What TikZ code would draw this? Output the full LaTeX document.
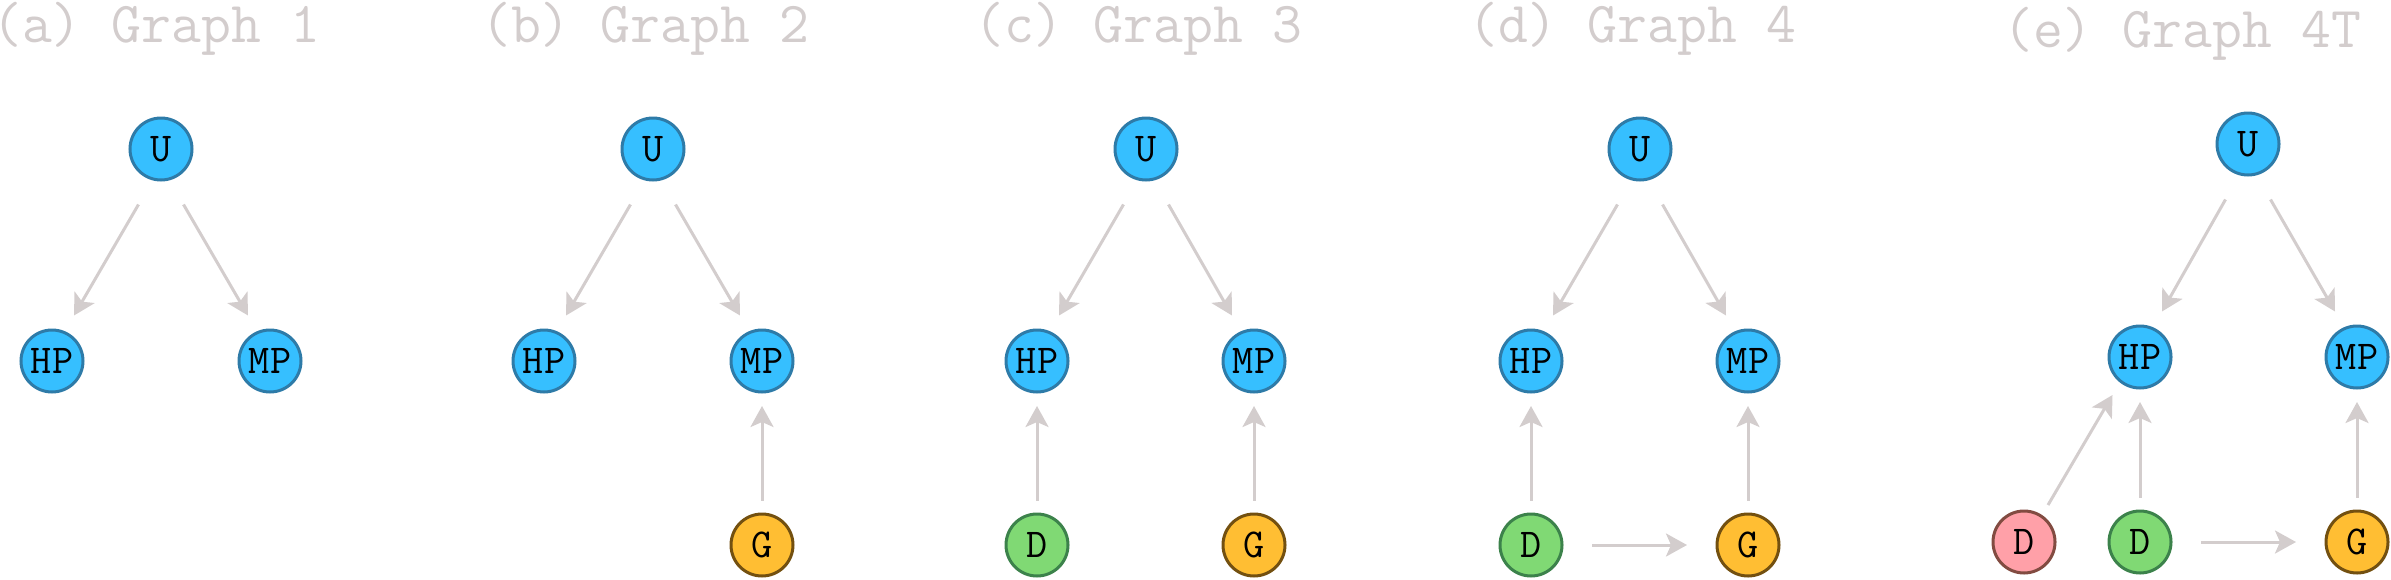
\documentclass[tikz,border=0pt]{standalone}
\usepackage{fontspec}
\usetikzlibrary{arrows.meta}
\definecolor{titlegray}{RGB}{211,205,205}
\definecolor{arrgray}{RGB}{211,205,205}
\definecolor{bluefill}{RGB}{54,191,255}
\definecolor{blueline}{RGB}{46,123,168}
\definecolor{greenfill}{RGB}{128,217,116}
\definecolor{greenline}{RGB}{60,130,75}
\definecolor{goldfill}{RGB}{255,190,51}
\definecolor{goldline}{RGB}{115,80,16}
\definecolor{pinkfill}{RGB}{255,160,168}
\definecolor{pinkline}{RGB}{130,75,65}
\tikzset{
  vnode/.style={circle, minimum size=62pt, inner sep=0pt, line width=3pt,
    font=\ttfamily\fontsize{41}{41}\selectfont, text=black},
  bluenode/.style={vnode, fill=bluefill, draw=blueline},
  greennode/.style={vnode, fill=greenfill, draw=greenline},
  goldnode/.style={vnode, fill=goldfill, draw=goldline},
  pinknode/.style={vnode, fill=pinkfill, draw=pinkline},
  ptitle/.style={anchor=base west, inner sep=0pt, text=titlegray,
    font=\ttfamily\fontsize{58}{58}\selectfont},
  arr/.style={draw=arrgray, line width=3pt,
    -{Stealth[length=21pt, width=23pt, inset=5pt]}},
  vert/.style={arr, shorten <=12pt, shorten >=12.5pt},
  horz/.style={arr, shorten <=28.5pt, shorten >=28.5pt}
}
% diagonal arrows from U to HP / MP (fixed 60 degree slope)
\newcommand{\uhp}[2]{\draw[arr] ([shift={(-22.5,55.5)}]#1.center) -- ([shift={(22,-45.5)}]#2.center);}
\newcommand{\ump}[2]{\draw[arr] ([shift={(22.5,55.5)}]#1.center) -- ([shift={(-22,-45.5)}]#2.center);}
\begin{document}
\begin{tikzpicture}[x=1pt, y=-1pt]
\useasboundingbox (0,0) rectangle (2391,579);
% titles
\node[ptitle] (ta) at (0,42) {\kern-8pt(a) Graph 1};
\node[ptitle] (tb) at (481,42) {(b) Graph 2};
\node[ptitle] (tc) at (974,42) {(c) Graph 3};
\node[ptitle] (td) at (1468,42) {(d) Graph 4};
\node[ptitle] (te) at (2003,47) {(e) Graph 4T};
% (a)
\node[bluenode] (aU) at (161,149) {U};
\node[bluenode] (aHP) at (52,361) {HP};
\node[bluenode] (aMP) at (270,361) {MP};
\uhp{aU}{aHP}
\ump{aU}{aMP}
% (b)
\node[bluenode] (bU) at (653,149) {U};
\node[bluenode] (bHP) at (544,361) {HP};
\node[bluenode] (bMP) at (762,361) {MP};
\node[goldnode] (bG) at (762,545) {G};
\uhp{bU}{bHP}
\ump{bU}{bMP}
\draw[vert] (bG) -- (bMP);
% (c)
\node[bluenode] (cU) at (1146,149) {U};
\node[bluenode] (cHP) at (1037,361) {HP};
\node[bluenode] (cMP) at (1254,361) {MP};
\node[greennode] (cD) at (1037,545) {D};
\node[goldnode] (cG) at (1254,545) {G};
\uhp{cU}{cHP}
\ump{cU}{cMP}
\draw[vert] (cD) -- (cHP);
\draw[vert] (cG) -- (cMP);
% (d)
\node[bluenode] (dU) at (1640,149) {U};
\node[bluenode] (dHP) at (1531,361) {HP};
\node[bluenode] (dMP) at (1748,361) {MP};
\node[greennode] (dD) at (1531,545) {D};
\node[goldnode] (dG) at (1748,545) {G};
\uhp{dU}{dHP}
\ump{dU}{dMP}
\draw[vert] (dD) -- (dHP);
\draw[vert] (dG) -- (dMP);
\draw[horz] (dD) -- (dG);
% (e)
\node[bluenode] (eU) at (2248,144) {U};
\node[bluenode] (eHP) at (2140,357) {HP};
\node[bluenode] (eMP) at (2357,357) {MP};
\node[pinknode] (eDp) at (2024,542) {D};
\node[greennode] (eD) at (2140,542) {D};
\node[goldnode] (eG) at (2357,542) {G};
\uhp{eU}{eHP}
\ump{eU}{eMP}
\draw[arr] ([shift={(24,-37)}]eDp.center) -- ([shift={(-27.5,38)}]eHP.center);
\draw[vert] (eD) -- (eHP);
\draw[vert] (eG) -- (eMP);
\draw[horz] (eD) -- (eG);
\end{tikzpicture}
\end{document}
